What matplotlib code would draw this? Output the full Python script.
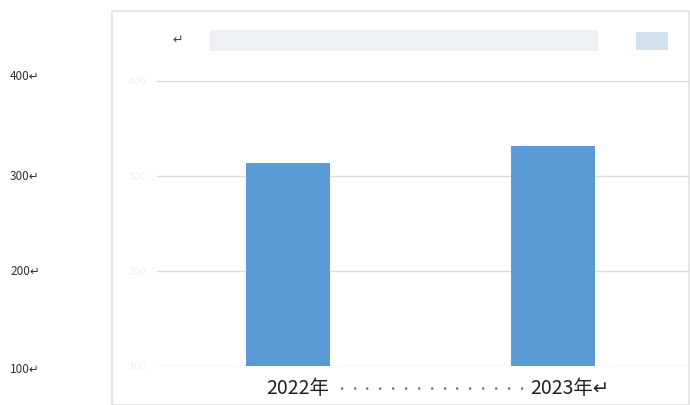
import matplotlib
matplotlib.use("Agg")
import matplotlib.pyplot as plt
from matplotlib.patches import Rectangle

plt.rcParams['font.family'] = ['Noto Sans CJK SC', 'DejaVu Sans']

categories = ["2022年", "2023年"]
values = [314, 332]
grid_ticks = [100, 200, 300, 400]
outer_labels = ["100↵", "200↵", "300↵", "400↵"]

W, H = 690, 406
fig = plt.figure(figsize=(W / 100, H / 100), dpi=100)
fig.patch.set_facecolor("white")

def fx(px):
    return px / W

def fy(py):
    return 1 - py / H

# outer frame of the embedded chart
frame = Rectangle((fx(112), 0), fx(689) - fx(112), fy(12), transform=fig.transFigure,
                  fill=False, edgecolor="#e3e3e3", linewidth=1.2)
fig.patches.append(frame)

# blurred header imitation
fig.patches.append(Rectangle((fx(210), fy(52)), fx(598) - fx(210), (fy(31) - fy(52)),
                             transform=fig.transFigure, facecolor="#eef1f3", edgecolor="none"))
fig.patches.append(Rectangle((fx(636), fy(51)), fx(668) - fx(636), (fy(33) - fy(51)),
                             transform=fig.transFigure, facecolor="#d3e2ee", edgecolor="none"))
fig.text(fx(178), fy(40), "↵", ha="center", va="center", fontsize=9, color="#444444")

# main axes
ax_left, ax_right = 157, 690
base_y = 367.2
scale = 0.95  # px per unit
top_val = 430
top_y = base_y - (top_val - 100) * scale
ax = fig.add_axes([fx(ax_left), fy(base_y), fx(ax_right) - fx(ax_left), fy(top_y) - fy(base_y)])
ax.set_facecolor("none")
x = list(range(len(categories)))
ax.bar(x, values, width=0.317, color="#5b9bd5", zorder=3)
ax.set_ylim(100, top_val)
ax.set_xlim(-0.494, 1.517)
ax.set_yticks(grid_ticks)
ax.yaxis.grid(True, color="#dcdcdc", linewidth=1)
ax.set_yticklabels([])
ax.tick_params(axis="y", length=0)
for s in ax.spines.values():
    s.set_visible(False)
ax.set_xticks([x[0] + 0.035, x[1] + 0.065])
ax.set_xticklabels([categories[0], categories[1] + "↵"], fontsize=14, color="#222222")
ax.tick_params(axis="x", length=0, pad=8)

# dotted leader between the category labels
n_dots = 15
for i in range(n_dots):
    px = 341 + i * (521 - 341) / (n_dots - 1)
    fig.text(fx(px), fy(390), "·", ha="center", va="center", fontsize=9, color="#777777")

# faint inner labels
for t in grid_ticks:
    yy = ax.transData.transform((0, t))[1] / (fig.dpi * fig.get_figheight())
    fig.text(fx(137), yy, str(t), ha="center", va="center", fontsize=8, color="#f0f0f0")

# outer labels on the page (positioned as in the page layout)
outer_y = [370, 272, 176, 76]
for py, lab in zip(outer_y, outer_labels):
    fig.text(fx(10), fy(py), lab, ha="left", va="center", fontsize=8.5, color="#333333")

fig.savefig("out.png", dpi=100)
